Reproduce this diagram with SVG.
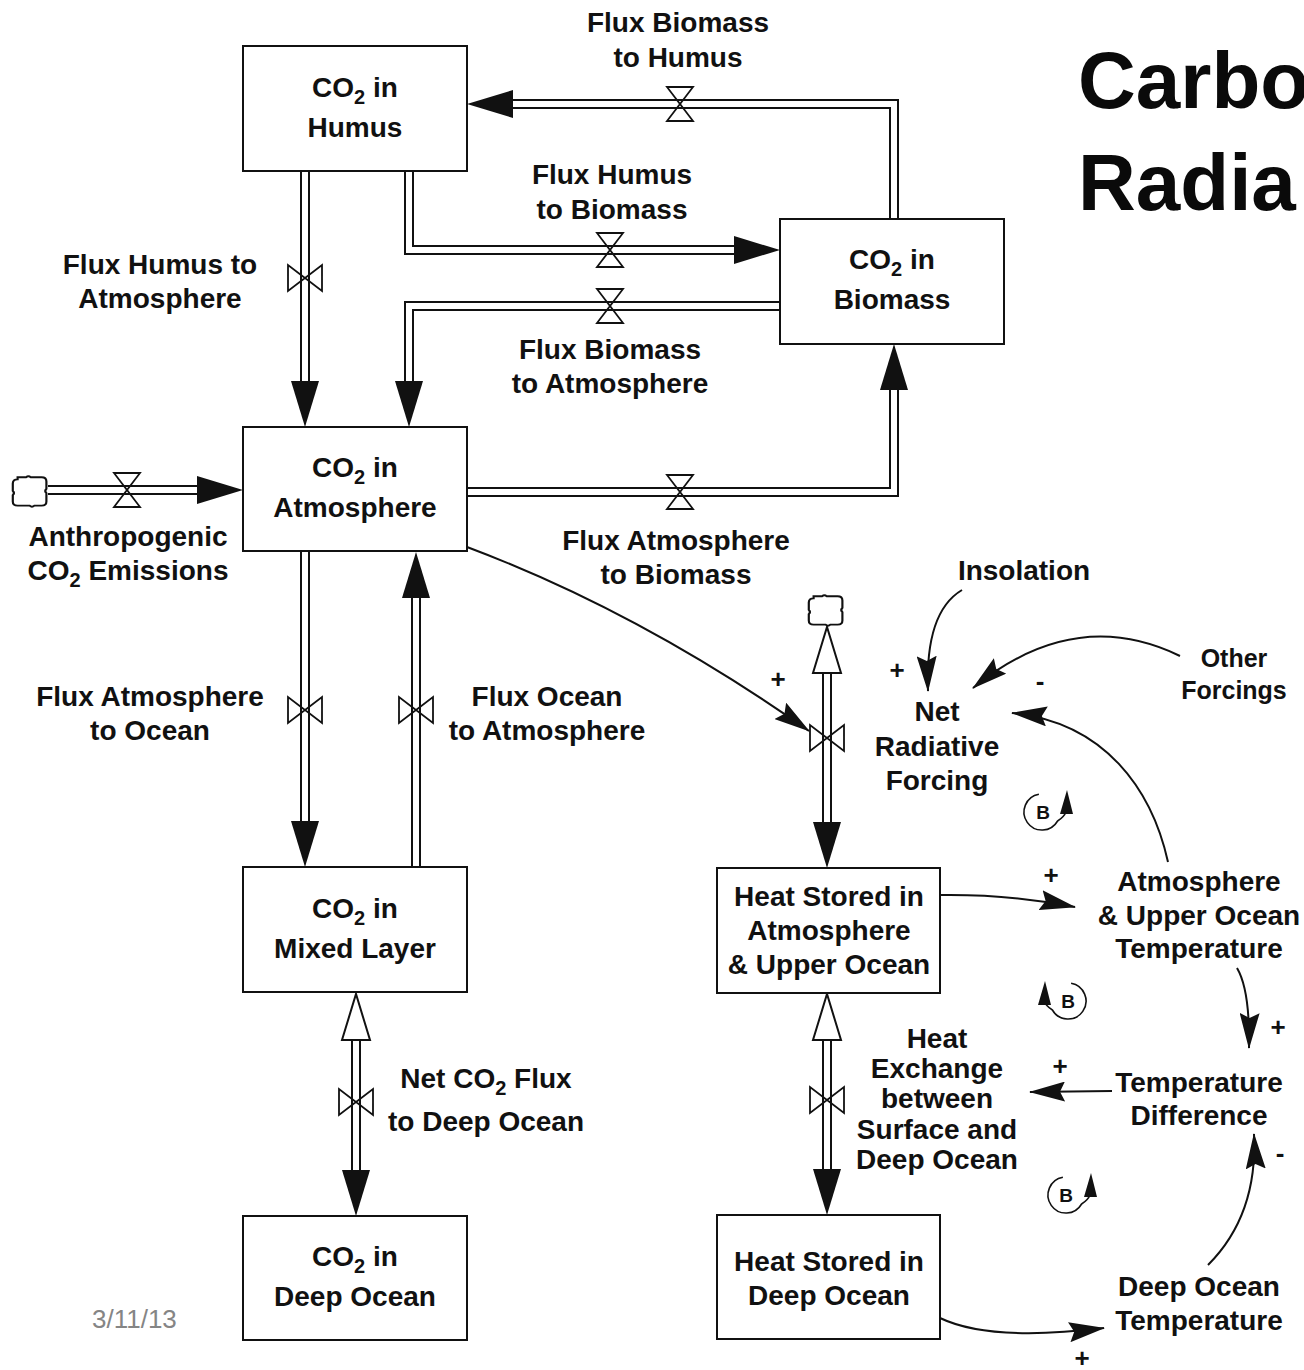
<svg xmlns="http://www.w3.org/2000/svg" width="1304" height="1370" viewBox="0 0 1304 1370">
  <style>
    .t { font-family: "Liberation Sans", Arial, Helvetica, sans-serif; font-weight: bold; font-size: 28px; text-anchor: middle; fill: #111; }
    .sub { font-size: 20px; }
    .sign { font-size: 26px; }
    .small { font-size: 25px; }
    .loopl { font-size: 19px; }
    .title { font-family: "Liberation Sans", Arial, Helvetica, sans-serif; font-weight: bold; font-size: 80px; fill: #0a0a0a; }
    .date { font-family: "Liberation Sans", Arial, sans-serif; font-size: 26px; fill: #858585; }
    .box { fill: #fff; stroke: #111; stroke-width: 2; }
    .po { fill: none; stroke: #111; stroke-width: 10; stroke-linejoin: miter; }
    .pi { fill: none; stroke: #fff; stroke-width: 6; stroke-linejoin: miter; }
    .head { fill: #111; }
    .hollow { fill: #fff; stroke: #111; stroke-width: 2; }
    .valve { fill: none; stroke: #111; stroke-width: 1.8; }
    .cloud { fill: #fff; stroke: #111; stroke-width: 1.8; }
    .link { fill: none; stroke: #111; stroke-width: 2; }
    .loop { fill: none; stroke: #111; stroke-width: 1.6; }
  </style>
  <defs>
    <marker id="ah" viewBox="0 0 36 20" refX="35" refY="10" markerWidth="36" markerHeight="20" markerUnits="userSpaceOnUse" orient="auto">
      <path d="M0,0 L36,10 L0,20 L5,10 Z" fill="#111"/>
    </marker>
    <!-- cloud (source / sink) outline centred on 0,0 -->
    <path id="cloudShape" d="M-12,-14 h7 q2,-2 4,0 h9 q4,0 4,4 v7 q-2,2 0,4 v8 q0,4 -4,4 h-6 q-2,2 -4,0 h-10 q-4,0 -4,-4 v-6 q2,-2 0,-4 v-7 q0,-4 4,-4 z"/>
    <!-- valves -->
    <g id="valveH">
      <path d="M-13,-17 L13,-17 L0,0 Z M-13,17 L13,17 L0,0 Z"/>
    </g>
    <g id="valveV">
      <path d="M-17,-13 L-17,13 L0,0 Z M17,-13 L17,13 L0,0 Z"/>
    </g>
  </defs>

  <rect width="1304" height="1370" fill="#fff"/>

  <!-- title and date -->
  <text class="title" x="1078" y="108">Carbo</text>
  <text class="title" x="1078" y="210">Radia</text>
  <text class="date" x="92" y="1328">3/11/13</text>

  <!-- pipes (double-line flows) and causal links -->
  <g id="connectors">
    <path class="po" d="M305,171 V381"/><path class="pi" d="M305,171 V381"/>
    <polygon class="head" points="291,381 319,381 305,427"/>

    <path class="po" d="M409,171 V250 H734"/><path class="pi" d="M409,171 V250 H734"/>
    <polygon class="head" points="734,236 734,264 780,250"/>

    <path class="po" d="M780,306 H409 V381"/><path class="pi" d="M780,306 H409 V381"/>
    <polygon class="head" points="395,381 423,381 409,427"/>

    <path class="po" d="M894,219 V104 H513"/><path class="pi" d="M894,219 V104 H513"/>
    <polygon class="head" points="513,90 513,118 467,104"/>

    <path class="po" d="M467,492 H894 V390"/><path class="pi" d="M467,492 H894 V390"/>
    <polygon class="head" points="880,390 908,390 894,344"/>

    <path class="po" d="M48,490 H197"/><path class="pi" d="M48,490 H197"/>
    <polygon class="head" points="197,476 197,504 243,490"/>

    <path class="po" d="M305,551 V821"/><path class="pi" d="M305,551 V821"/>
    <polygon class="head" points="291,821 319,821 305,867"/>

    <path class="po" d="M416,867 V598"/><path class="pi" d="M416,867 V598"/>
    <polygon class="head" points="402,598 430,598 416,552"/>

    <path class="po" d="M356,1040 V1170"/><path class="pi" d="M356,1040 V1170"/>
    <polygon class="hollow" points="342,1040 370,1040 356,994"/>
    <polygon class="head" points="342,1170 370,1170 356,1216"/>

    <path class="po" d="M827,673 V822"/><path class="pi" d="M827,673 V822"/>
    <polygon class="hollow" points="813,673 841,673 827,627"/>
    <polygon class="head" points="813,822 841,822 827,868"/>

    <path class="po" d="M827,1040 V1169"/><path class="pi" d="M827,1040 V1169"/>
    <polygon class="hollow" points="813,1040 841,1040 827,994"/>
    <polygon class="head" points="813,1169 841,1169 827,1215"/>

    <!-- causal links -->
    <path class="link" marker-end="url(#ah)" d="M467,547 Q640,612 809,731"/>
    <path class="link" marker-end="url(#ah)" d="M962,590 Q925,612 928,691"/>
    <path class="link" marker-end="url(#ah)" d="M1180,656 Q1075,605 973,688"/>
    <path class="link" marker-end="url(#ah)" d="M1168,862 C1152,790 1105,722 1012,713"/>
    <path class="link" marker-end="url(#ah)" d="M940,895 Q1010,894 1075,907"/>
    <path class="link" marker-end="url(#ah)" d="M1237,968 Q1250,990 1249,1048"/>
    <path class="link" marker-end="url(#ah)" d="M1112,1091 L1030,1092"/>
    <path class="link" marker-end="url(#ah)" d="M1208,1265 Q1258,1215 1254,1134"/>
    <path class="link" marker-end="url(#ah)" d="M940,1318 Q990,1342 1104,1328"/>
  </g>

  <!-- sources / sinks -->
  <g id="cloud-emissions"><use href="#cloudShape" class="cloud" transform="translate(32,492) scale(1.2,1.05)"/></g>
  <g id="cloud-heat"><use href="#cloudShape" class="cloud" transform="translate(828,611) scale(1.2,1.05)"/></g>

  <!-- stocks -->
  <g id="co2-humus">
    <rect class="box" x="243" y="46" width="224" height="125"/>
    <text class="t" x="355" y="97">CO<tspan class="sub" dy="7">2</tspan><tspan dy="-7"> in</tspan></text>
    <text class="t" x="355" y="137">Humus</text>
  </g>
  <g id="co2-biomass">
    <rect class="box" x="780" y="219" width="224" height="125"/>
    <text class="t" x="892" y="269">CO<tspan class="sub" dy="7">2</tspan><tspan dy="-7"> in</tspan></text>
    <text class="t" x="892" y="309">Biomass</text>
  </g>
  <g id="co2-atmosphere">
    <rect class="box" x="243" y="427" width="224" height="124"/>
    <text class="t" x="355" y="477">CO<tspan class="sub" dy="7">2</tspan><tspan dy="-7"> in</tspan></text>
    <text class="t" x="355" y="517">Atmosphere</text>
  </g>
  <g id="co2-mixed-layer">
    <rect class="box" x="243" y="867" width="224" height="125"/>
    <text class="t" x="355" y="918">CO<tspan class="sub" dy="7">2</tspan><tspan dy="-7"> in</tspan></text>
    <text class="t" x="355" y="958">Mixed Layer</text>
  </g>
  <g id="co2-deep-ocean">
    <rect class="box" x="243" y="1216" width="224" height="124"/>
    <text class="t" x="355" y="1266">CO<tspan class="sub" dy="7">2</tspan><tspan dy="-7"> in</tspan></text>
    <text class="t" x="355" y="1306">Deep Ocean</text>
  </g>
  <g id="heat-upper">
    <rect class="box" x="717" y="868" width="223" height="125"/>
    <text class="t" x="829" y="906">Heat Stored in</text>
    <text class="t" x="829" y="940">Atmosphere</text>
    <text class="t" x="829" y="974">&amp; Upper Ocean</text>
  </g>
  <g id="heat-deep">
    <rect class="box" x="717" y="1215" width="223" height="124"/>
    <text class="t" x="829" y="1271">Heat Stored in</text>
    <text class="t" x="829" y="1305">Deep Ocean</text>
  </g>

  <!-- flows: valve and label -->
  <g id="flux-biomass-humus">
    <use href="#valveH" class="valve" x="680" y="104"/>
    <text class="t" x="678" y="32">Flux Biomass</text>
    <text class="t" x="678" y="67">to Humus</text>
  </g>
  <g id="flux-humus-biomass">
    <use href="#valveH" class="valve" x="610" y="250"/>
    <text class="t" x="612" y="184">Flux Humus</text>
    <text class="t" x="612" y="219">to Biomass</text>
  </g>
  <g id="flux-biomass-atmosphere">
    <use href="#valveH" class="valve" x="610" y="306"/>
    <text class="t" x="610" y="359">Flux Biomass</text>
    <text class="t" x="610" y="393">to Atmosphere</text>
  </g>
  <g id="flux-humus-atmosphere">
    <use href="#valveV" class="valve" x="305" y="278"/>
    <text class="t" x="160" y="274">Flux Humus to</text>
    <text class="t" x="160" y="308">Atmosphere</text>
  </g>
  <g id="flux-atmosphere-biomass">
    <use href="#valveH" class="valve" x="680" y="492"/>
    <text class="t" x="676" y="550">Flux Atmosphere</text>
    <text class="t" x="676" y="584">to Biomass</text>
  </g>
  <g id="anthropogenic-emissions">
    <use href="#valveH" class="valve" x="127" y="490"/>
    <text class="t" x="128" y="546">Anthropogenic</text>
    <text class="t" x="128" y="580">CO<tspan class="sub" dy="7">2</tspan><tspan dy="-7"> Emissions</tspan></text>
  </g>
  <g id="flux-atmosphere-ocean">
    <use href="#valveV" class="valve" x="305" y="710"/>
    <text class="t" x="150" y="706">Flux Atmosphere</text>
    <text class="t" x="150" y="740">to Ocean</text>
  </g>
  <g id="flux-ocean-atmosphere">
    <use href="#valveV" class="valve" x="416" y="710"/>
    <text class="t" x="547" y="706">Flux Ocean</text>
    <text class="t" x="547" y="740">to Atmosphere</text>
  </g>
  <g id="net-co2-flux">
    <use href="#valveV" class="valve" x="356" y="1102"/>
    <text class="t" x="486" y="1088">Net CO<tspan class="sub" dy="7">2</tspan><tspan dy="-7"> Flux</tspan></text>
    <text class="t" x="486" y="1131">to Deep Ocean</text>
  </g>
  <g id="net-radiative-inflow">
    <use href="#valveV" class="valve" x="827" y="738"/>
  </g>
  <g id="heat-exchange">
    <use href="#valveV" class="valve" x="827" y="1100"/>
    <text class="t" x="937" y="1048">Heat</text>
    <text class="t" x="937" y="1078">Exchange</text>
    <text class="t" x="937" y="1108">between</text>
    <text class="t" x="937" y="1139">Surface and</text>
    <text class="t" x="937" y="1169">Deep Ocean</text>
  </g>

  <!-- auxiliary variables -->
  <g id="insolation"><text class="t" x="1024" y="580">Insolation</text></g>
  <g id="other-forcings">
    <text class="t small" x="1234" y="667">Other</text>
    <text class="t small" x="1234" y="699">Forcings</text>
  </g>
  <g id="net-radiative-forcing">
    <text class="t" x="937" y="721">Net</text>
    <text class="t" x="937" y="756">Radiative</text>
    <text class="t" x="937" y="790">Forcing</text>
  </g>
  <g id="upper-temperature">
    <text class="t" x="1199" y="891">Atmosphere</text>
    <text class="t" x="1199" y="925">&amp; Upper Ocean</text>
    <text class="t" x="1199" y="958">Temperature</text>
  </g>
  <g id="temperature-difference">
    <text class="t" x="1199" y="1092">Temperature</text>
    <text class="t" x="1199" y="1125">Difference</text>
  </g>
  <g id="deep-temperature">
    <text class="t" x="1199" y="1296">Deep Ocean</text>
    <text class="t" x="1199" y="1330">Temperature</text>
  </g>

  <!-- link polarities -->
  <g id="polarities">
    <text class="t sign" x="778" y="688">+</text>
    <text class="t sign" x="897" y="679">+</text>
    <text class="t sign" x="1040" y="690">-</text>
    <text class="t sign" x="1051" y="884">+</text>
    <text class="t sign" x="1278" y="1036">+</text>
    <text class="t sign" x="1060" y="1075">+</text>
    <text class="t sign" x="1280" y="1162">-</text>
    <text class="t sign" x="1082" y="1367">+</text>
  </g>

  <!-- balancing loop markers -->
  <g id="loop-b1">
    <path class="loop" d="M1038.9,794.3 A18,18 0 1 0 1057.6,821 Q1064,817 1066,812"/>
    <polygon class="head" points="1060,814 1073,814 1067,790"/>
    <text class="t loopl" x="1043" y="819">B</text>
  </g>
  <g id="loop-b2">
    <path class="loop" d="M1071.1,983.3 A18,18 0 1 1 1052.4,1010 Q1046,1006 1044,1001"/>
    <polygon class="head" points="1038,1005 1051,1005 1045,981"/>
    <text class="t loopl" x="1068" y="1008">B</text>
  </g>
  <g id="loop-b3">
    <path class="loop" d="M1062.9,1177.3 A18,18 0 1 0 1081.6,1204 Q1088,1200 1090,1195"/>
    <polygon class="head" points="1084,1197 1097,1197 1091,1173"/>
    <text class="t loopl" x="1066" y="1202">B</text>
  </g>
</svg>
